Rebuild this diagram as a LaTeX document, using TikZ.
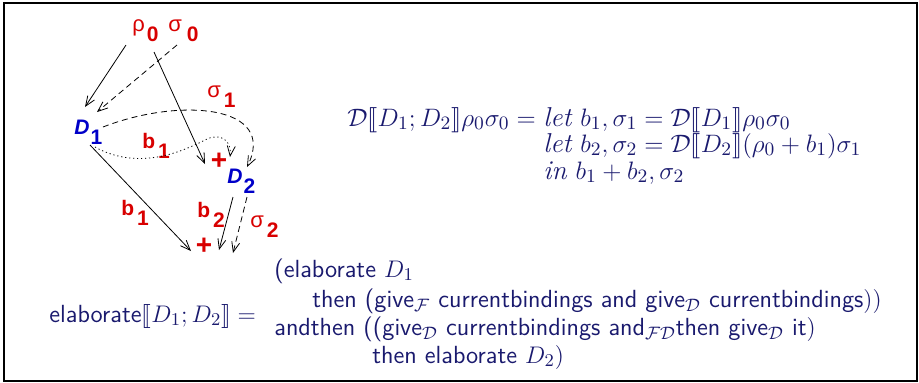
\documentclass[tikz,border=0pt]{standalone}
\usepackage{fontspec}
\usepackage{stmaryrd}
\usetikzlibrary{arrows.meta}
\newfontfamily\labf{Liberation Sans}
\definecolor{navy}{RGB}{26,26,110}
\definecolor{labred}{RGB}{216,0,0}
\definecolor{labblue}{RGB}{0,0,200}
\tikzset{
  lab/.style={text=labred, font=\labf\fontsize{10.5}{11}\selectfont\bfseries, inner sep=0pt, anchor=base west},
  dlab/.style={lab, text=labblue},
  plus/.style={text=labred, font=\labf\fontsize{14}{14}\selectfont\bfseries, inner sep=0pt},
  eq/.style={text=navy, font=\fontsize{13}{14}\selectfont, inner sep=0pt, anchor=base west, scale=1.05, transform shape},
  bt/.style={text=navy, font=\sffamily\fontsize{12.4}{14}\selectfont, inner sep=0pt, anchor=base west},
  arr/.style={-{Straight Barb[length=5pt,width=4pt]}, line width=0.4pt},
  dsh/.style={dash pattern=on 3pt off 2pt},
  dtt/.style={dash pattern=on 0.6pt off 1.4pt}
}
\newcommand{\sbx}[1]{\raisebox{-5pt}{#1}}
\newcommand{\gk}[1]{{\mdseries\fontsize{11}{11}\selectfont #1}}
\begin{document}
\begin{tikzpicture}[x=0.5pt,y=-0.5pt]
\useasboundingbox (0,0) rectangle (919,382);
\draw[line width=1pt] (4,3) rectangle (917,380.5);

% labels
\node[lab] (rho0) at (132,31) {\gk{ρ}\hspace{1pt}\sbx{0}};
\node[lab] (sig0) at (168,31) {\gk{σ}\hspace{2.5pt}\sbx{0}};
\node[dlab] (D1) at (74,134) {\itshape D\hspace{0.5pt}\sbx{\upshape 1}};
\node[dlab] (D2) at (227,183) {\itshape D\hspace{0.5pt}\sbx{\upshape 2}};
\node[lab] (sig1) at (207,97) {\gk{σ}\hspace{1.5pt}\sbx{1}};
\node[lab] (b1u) at (142,148) {b\hspace{1.5pt}\sbx{1}};
\node[lab] (b1l) at (121,215) {b\hspace{1.5pt}\sbx{1}};
\node[lab] (b2) at (197,217) {b\hspace{1.5pt}\sbx{2}};
\node[lab] (sig2) at (250,227) {\gk{σ}\hspace{1.5pt}\sbx{2}};
\node[plus] (plusu) at (219,161) {+};
\node[plus] (plusl) at (204,246) {+};

% connector endpoints
\coordinate (a1s) at (126,45);  \coordinate (a1e) at (85,107);
\coordinate (a2s) at (177,45);  \coordinate (a2e) at (97,112);
\coordinate (a3s) at (154,52);  \coordinate (a3e) at (205,164);
\coordinate (a4s) at (103,127); \coordinate (a4e) at (247,167);
\coordinate (a5s) at (95,147);  \coordinate (a5m) at (205,140); \coordinate (a5e) at (230,157);
\coordinate (a6s) at (90,145);  \coordinate (a6e) at (191,251);
\coordinate (a7s) at (233,197); \coordinate (a7e) at (219,250);
\coordinate (a8s) at (247,197); \coordinate (a8e) at (233,253);

\draw[arr] (a1s) -- (a1e);
\draw[arr,dsh] (a2s) -- (a2e);
\draw[arr] (a3s) -- (a3e);
\draw[arr,dsh] (a4s) .. controls (180,97) and (278,105) .. (a4e);
\draw[arr,dtt] (a5s) .. controls (140,172) and (185,150) .. (a5m) .. controls (220,132) and (232,140) .. (a5e);
\draw[arr] (a6s) -- (a6e);
\draw[arr] (a7s) -- (a7e);
\draw[arr,dsh] (a8s) -- (a8e);

% equations
\node[eq] (e1l) at (347,126) {$\mathcal{D}\llbracket D_1;D_2\rrbracket\rho_0\sigma_0 =$};
\node[eq] (e1) at (543,126) {$\mathit{let}\ b_1,\sigma_1 = \mathcal{D}\llbracket D_1\rrbracket\rho_0\sigma_0$};
\node[eq] (e2) at (543,152) {$\mathit{let}\ b_2,\sigma_2 = \mathcal{D}\llbracket D_2\rrbracket(\rho_0+b_1)\sigma_1$};
\node[eq] (e3) at (543,179) {$\mathit{in}\ b_1+b_2,\sigma_2$};

% bottom text
\node[bt] (el) at (49,322) {elaborate$\llbracket D_1;D_2\rrbracket =$};
\node[bt] (la) at (274,277) {(elaborate $D_1$};
\node[bt] (lb) at (312,307) {then (give$_{\mathcal{F}}$ currentbindings and give$_{\mathcal{D}}$ currentbindings$))$};
\node[bt] (lc) at (274,335) {andthen ((give$_{\mathcal{D}}$ currentbindings and$_{\mathcal{F}\mathcal{D}}$then give$_{\mathcal{D}}$ it$)$};
\node[bt] (ld) at (372,363) {then elaborate $D_2)$};
\end{tikzpicture}
\end{document}
